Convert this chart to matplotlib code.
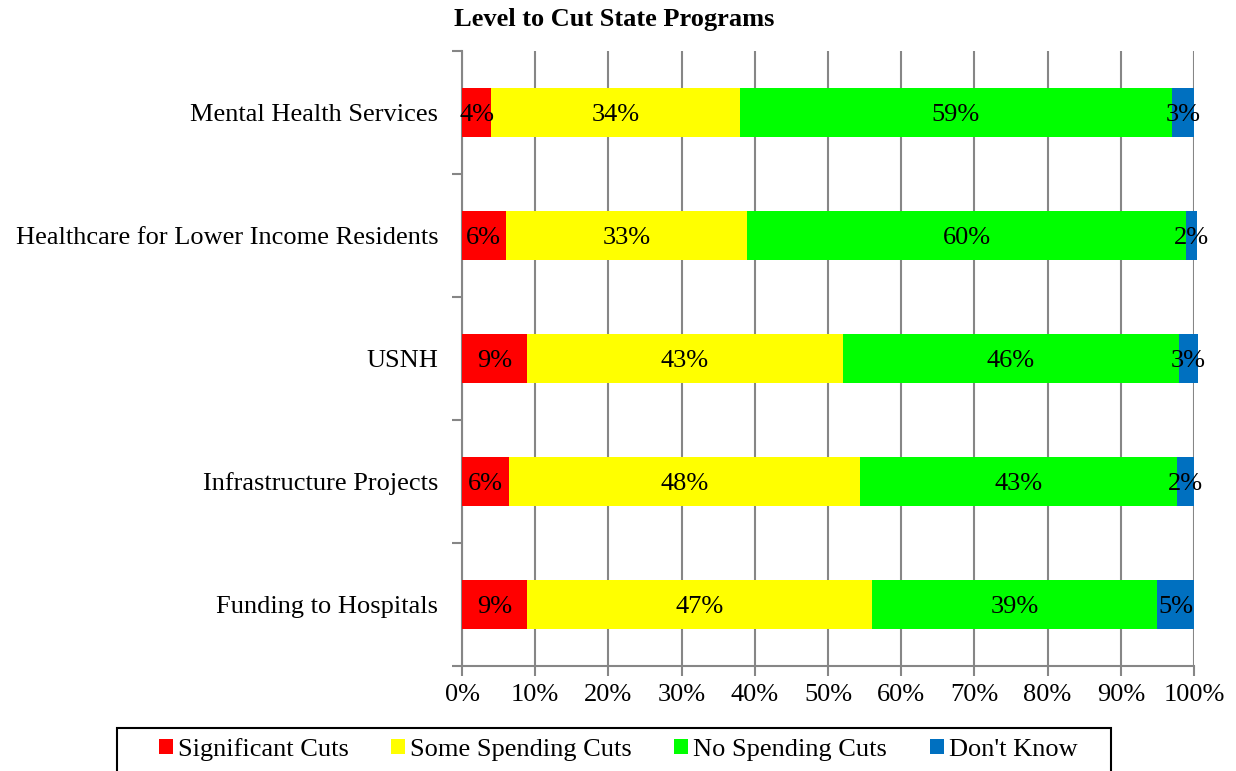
import matplotlib.pyplot as plt
import matplotlib.patches as patches
import numpy as np

plt.rcParams['font.family'] = ['Liberation Serif', 'DejaVu Serif']

categories = ["Mental Health Services", "Healthcare for Lower Income Residents",
              "USNH", "Infrastructure Projects", "Funding to Hospitals"]
significant = [3.96, 5.97, 8.9, 6.37, 8.9]
some_cuts = [34.0, 33.0, 43.1, 48.0, 47.1]
no_cuts = [59.0, 60.0, 46.0, 43.3, 39.0]
dont_know = [3.0, 1.5, 2.5, 2.3, 5.0]

series = [("Significant Cuts", significant, "#ff0000"),
          ("Some Spending Cuts", some_cuts, "#ffff00"),
          ("No Spending Cuts", no_cuts, "#00ff00"),
          ("Don't Know", dont_know, "#0070c0")]

fs = 19

fig = plt.figure(figsize=(12.36, 7.71), dpi=100, facecolor='w')
ax = fig.add_axes([0.3738, 0.1366, 0.5922, 0.7977])

y = np.arange(len(categories))
left = np.zeros(len(categories))
for name, vals, clr in series:
    vals = np.array(vals)
    ax.barh(y, vals, left=left, height=0.4, color=clr, label=name,
            zorder=3, clip_on=False)
    for yi, l, v in zip(y, left, vals):
        ax.text(l + v / 2, yi, "%d%%" % int(v + 0.5), ha='center',
                va='center_baseline', fontsize=fs, color='k', zorder=4)
    left += vals

ax.set_xlim(0, 100)
ax.set_ylim(len(categories) - 0.5, -0.5)
ax.set_xticks(np.arange(0, 101, 10))
ax.set_xticklabels(["%d%%" % v for v in range(0, 101, 10)], fontsize=fs)
ax.set_yticks(y)
ax.set_yticklabels(categories, fontsize=fs)
ax.set_yticks(np.arange(-0.5, len(categories)), minor=True)
ax.tick_params(axis='y', which='major', length=0, pad=17)
ax.tick_params(axis='y', which='minor', length=7, color='#868686', width=1.5)
ax.tick_params(axis='x', length=7, color='#868686', width=1.5, pad=6)

ax.grid(axis='x', color='#868686', linewidth=1.5, zorder=0)
ax.set_axisbelow(True)
for s in ['top', 'right']:
    ax.spines[s].set_visible(False)
for s in ['left', 'bottom']:
    ax.spines[s].set_color('#868686')
    ax.spines[s].set_linewidth(1.5)

fig.suptitle("Level to Cut State Programs", x=0.497, y=0.99, fontsize=fs,
             fontweight='bold', va='top')

# legend without frame, box drawn separately (it runs off the bottom edge)
leg = fig.legend(loc='center', bbox_to_anchor=(0.5, 0.028), ncol=4,
                 fontsize=fs, frameon=False,
                 handlelength=0.53, handleheight=0.53, handletextpad=0.2,
                 columnspacing=1.6, borderpad=0, borderaxespad=0)
box = patches.Rectangle((117 / 1236, -0.05), (1111 - 117) / 1236,
                        0.05 + (771 - 728) / 771, transform=fig.transFigure,
                        fill=False, edgecolor='k', linewidth=1.5)
fig.patches.append(box)

fig.savefig("out.png", dpi=100)
